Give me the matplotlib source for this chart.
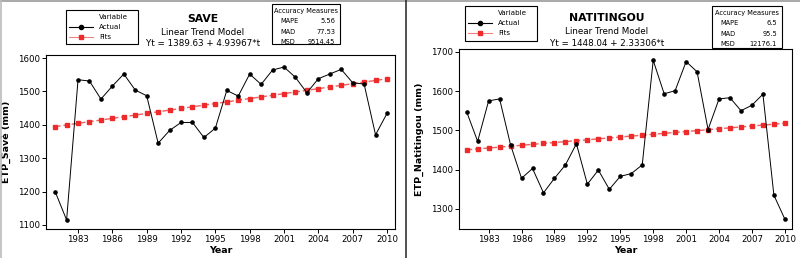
import numpy as np
import matplotlib.pyplot as plt
from matplotlib.patches import Rectangle
from matplotlib.lines import Line2D

years = list(range(1981, 2011))

save_actual = [1200, 1115, 1535, 1531, 1477, 1516, 1552, 1504, 1487, 1345,
               1383, 1407, 1407, 1362, 1390, 1503, 1486, 1552, 1521, 1564,
               1573, 1542, 1496, 1538, 1552, 1566, 1526, 1522, 1370, 1434]
save_fits = [1394.57, 1399.51, 1404.45, 1409.39, 1414.33, 1419.27, 1424.21, 1429.15,
             1434.09, 1439.03, 1443.97, 1448.91, 1453.85, 1458.79, 1463.73, 1468.66,
             1473.60, 1478.54, 1483.48, 1488.42, 1493.36, 1498.30, 1503.24, 1508.18,
             1513.12, 1518.06, 1523.00, 1527.94, 1532.88, 1537.82]

nati_actual = [1547, 1472, 1575, 1580, 1463, 1378, 1403, 1341, 1378, 1412,
               1466, 1363, 1399, 1350, 1383, 1390, 1412, 1678, 1593, 1601,
               1675, 1649, 1502, 1580, 1583, 1550, 1564, 1592, 1335, 1274]
nati_fits = [1450.37, 1452.71, 1455.04, 1457.37, 1459.71, 1462.04, 1464.37, 1466.70,
             1469.04, 1471.37, 1473.70, 1476.04, 1478.37, 1480.70, 1483.04, 1485.37,
             1487.70, 1490.04, 1492.37, 1494.70, 1497.04, 1499.37, 1501.70, 1504.03,
             1506.37, 1508.70, 1511.03, 1513.37, 1515.70, 1518.03]

xticks = list(range(1983, 2011, 3))

W, H = 800, 258
fig = plt.figure(figsize=(8, 2.58), dpi=100)

def fx(x):
    return x / W

def fy(y):
    return 1 - y / H

red = '#ee2a2a'

def panel(rect, actual, fits, ylim, yticks, ylabel, xlim):
    ax = fig.add_axes(rect)
    ax.plot(years, fits, color=red, lw=1.0, ls=(0, (4, 2)), alpha=0.75, zorder=2)
    ax.plot(years, fits, ls='none', marker='s', ms=2.8, color=red, zorder=3)
    ax.plot(years, actual, color='black', lw=0.7, marker='o', ms=2.3, zorder=4)
    ax.set_xlim(*xlim)
    ax.set_ylim(*ylim)
    ax.set_xticks(xticks)
    ax.set_yticks(yticks)
    ax.tick_params(labelsize=6.2, length=3, width=0.7, pad=1.5)
    ax.set_xlabel('Year', fontsize=6.8, fontweight='bold', labelpad=1)
    ax.set_ylabel(ylabel, fontsize=6.8, fontweight='bold', labelpad=5)
    for s in ax.spines.values():
        s.set_linewidth(0.8)
    return ax

panel([fx(46), fy(229), fx(395 - 46), (229 - 55) / H], save_actual, save_fits,
      (1088, 1609), [1100, 1200, 1300, 1400, 1500, 1600], 'ETP_Savè (mm)', (1980.2, 2010.7))
panel([fx(459), fy(229), fx(792 - 459), (229 - 49) / H], nati_actual, nati_fits,
      (1249, 1707), [1300, 1400, 1500, 1600, 1700], 'ETP_Natitingou (mm)', (1980.3, 2010.65))

# titles
def titles(cx, name, eq, y0):
    fig.text(fx(cx), fy(y0), name, ha='center', va='center', fontsize=7.8, fontweight='bold')
    fig.text(fx(cx), fy(y0 + 13.5), 'Linear Trend Model', ha='center', va='center', fontsize=6.3)
    fig.text(fx(cx), fy(y0 + 25), eq, ha='center', va='center', fontsize=6.3)

titles(203, 'SAVE', 'Yt = 1389.63 + 4.93967*t', 19)
titles(607, 'NATITINGOU', 'Yt = 1448.04 + 2.33306*t', 18)

# legend boxes
def legend_box(x0, y0, x1, y1):
    fig.patches.append(Rectangle((fx(x0), fy(y1)), fx(x1 - x0), (y1 - y0) / H,
                                 transform=fig.transFigure, fill=False, lw=0.8, ec='black'))
    fs = 5.1
    fig.text(fx(x0 + 33), fy(y0 + 7), 'Variable', fontsize=fs, va='center')
    yl = y0 + 17
    fig.lines.append(Line2D([fx(x0 + 3), fx(x0 + 27)], [fy(yl), fy(yl)], transform=fig.transFigure,
                            color='black', lw=0.8))
    fig.lines.append(Line2D([fx(x0 + 15)], [fy(yl)], transform=fig.transFigure,
                            color='black', lw=0, marker='o', ms=3))
    fig.text(fx(x0 + 33), fy(yl), 'Actual', fontsize=fs, va='center')
    yl2 = y0 + 27
    fig.lines.append(Line2D([fx(x0 + 3), fx(x0 + 27)], [fy(yl2)] * 2,
                            transform=fig.transFigure, color=red, lw=0.8, alpha=0.6))
    fig.lines.append(Line2D([fx(x0 + 15)], [fy(yl2)], transform=fig.transFigure,
                            color=red, marker='s', ms=3, lw=0))
    fig.text(fx(x0 + 33), fy(yl2), 'Fits', fontsize=fs, va='center')

legend_box(66, 10, 138, 44)
legend_box(465, 6, 537, 41)

# accuracy measures boxes
def acc_box(x0, y0, x1, y1, vals):
    fig.patches.append(Rectangle((fx(x0), fy(y1)), fx(x1 - x0), (y1 - y0) / H,
                                 transform=fig.transFigure, fill=False, lw=0.8, ec='black'))
    fs = 4.8
    fig.text(fx((x0 + x1) / 2), fy(y0 + 7), 'Accuracy Measures', ha='center', va='center', fontsize=fs)
    for i, (k, v) in enumerate(zip(['MAPE', 'MAD', 'MSD'], vals)):
        yy = y0 + 17 + i * 10.5
        fig.text(fx(x0 + 8), fy(yy), k, va='center', fontsize=fs)
        fig.text(fx(x1 - 5), fy(yy), v, va='center', ha='right', fontsize=fs)

acc_box(272, 4, 340, 44, ['5.56', '77.53', '9514.45'])
acc_box(712, 6, 782, 48, ['6.5', '95.5', '12176.1'])

# frame and divider
fig.lines.append(Line2D([0, 1], [fy(0.5), fy(0.5)], transform=fig.transFigure, color='#999999', lw=1.2))
fig.lines.append(Line2D([fx(1), fx(1)], [0, 1], transform=fig.transFigure, color='#bbbbbb', lw=1.2))
fig.lines.append(Line2D([fx(405.5), fx(405.5)], [0, 1], transform=fig.transFigure, color='#333333', lw=1.2))

fig.savefig('out.png', dpi=100)
